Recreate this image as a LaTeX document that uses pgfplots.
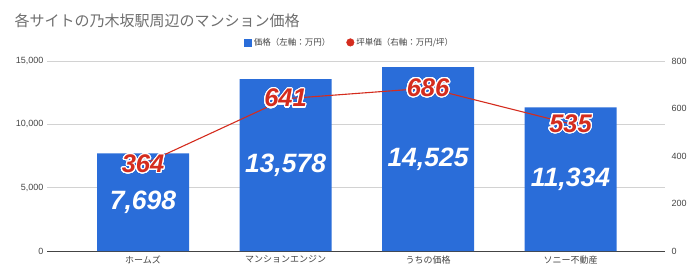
\documentclass[border=0pt]{standalone}
\usepackage{fontspec}
\setmainfont{Liberation Sans}
\newfontfamily\cjk{Noto Sans CJK JP}
\usepackage{pgfplots}
\usepackage{pgfplotstable}
\usepackage[copies]{contour}
\contourlength{1.1pt}
\contournumber{32}
\pgfplotsset{compat=1.18}
\definecolor{barblue}{RGB}{42,109,217}
\definecolor{linered}{RGB}{212,44,30}
\definecolor{gridgray}{RGB}{210,210,210}
\definecolor{ticktext}{RGB}{68,68,68}
\definecolor{titlegray}{RGB}{110,110,110}
\pgfplotstableread{
x price tsubo
0 7698 364
1 13578 641
2 14525 686
3 11334 535
}\datatable
\pgfplotsset{
  base/.style={
    at={(47pt,28pt)}, anchor=south west,
    scale only axis, width=618pt, height=190pt,
    xmin=-0.674, xmax=3.663,
    scaled y ticks=false,
    major tick length=0pt,
    every tick/.style={draw=none},
    y axis line style={draw=none},
    yticklabel style={font=\fontsize{9}{10}\selectfont, text=ticktext},
    /pgf/number format/.cd, 1000 sep={,}, assume math mode=true, /pgfplots/.cd,
    clip=false,
  }
}
\begin{document}
\begin{tikzpicture}
\node[anchor=west, text=titlegray, font=\cjk\fontsize{15}{18}\selectfont] at (11pt,258pt) {各サイトの乃木坂駅周辺のマンション価格};
\begin{axis}[
  base,
  ymin=0, ymax=15000,
  ytick={0,5000,10000,15000},
  xtick={0,1,2,3},
  xticklabels={ホームズ,マンションエンジン,うちの価格,ソニー不動産},
  xticklabel style={font=\cjk\fontsize{9}{10}\selectfont, text=ticktext, yshift=-1pt},
  axis x line*=bottom, axis y line*=left,
  x axis line style={draw=ticktext, line width=0.8pt},
  ymajorgrids, grid style={gridgray, line width=0.6pt},
]
\addplot[ybar, bar width=92pt, fill=barblue, draw=none, bar shift=0pt] table[x=x, y=price] {\datatable};
\addplot[only marks, mark=none, draw=none,
  nodes near coords={\pgfmathprintnumber[fixed,1000 sep={,}]{\pgfplotspointmeta}},
  point meta=\thisrow{price},
  every node near coord/.style={anchor=center, text=white, font=\fontsize{26.5}{29}\bfseries\itshape\selectfont, inner sep=0pt}]
  table[x=x, y expr=\thisrow{price}/2] {\datatable};
\end{axis}
\begin{axis}[
  base,
  ymin=0, ymax=800,
  ytick={0,200,400,600,800},
  axis y line*=right, axis x line=none,
  yticklabel style={xshift=3pt},
  legend style={at={(0.49,1.0)}, anchor=south, yshift=10pt, draw=none, fill=none,
    font=\cjk\fontsize{8.5}{10}\selectfont, text=ticktext,
    /tikz/every even column/.append style={column sep=14pt}},
  legend columns=2,
]
\addlegendimage{legend image code/.code={\fill[barblue] (0pt,-3.5pt) rectangle (7pt,3.5pt);}}
\addlegendentry{価格（左軸：万円）}
\addlegendimage{legend image code/.code={\fill[linered] (3.5pt,0pt) circle (3.8pt);}}
\addlegendentry{坪単価（右軸：万円/坪）}
\addplot[linered, line width=1.1pt, mark=none,
  nodes near coords={\contour{white}{\textcolor{linered}{\pgfmathprintnumber{\pgfplotspointmeta}}}},
  point meta=\thisrow{tsubo},
  every node near coord/.style={anchor=center, font=\fontsize{25.5}{28}\bfseries\itshape\selectfont, inner sep=0pt}]
  table[x=x, y=tsubo] {\datatable};
\end{axis}
\pgfresetboundingbox
\path[use as bounding box] (0pt,0pt) rectangle (700pt,279pt);
\end{tikzpicture}
\end{document}
